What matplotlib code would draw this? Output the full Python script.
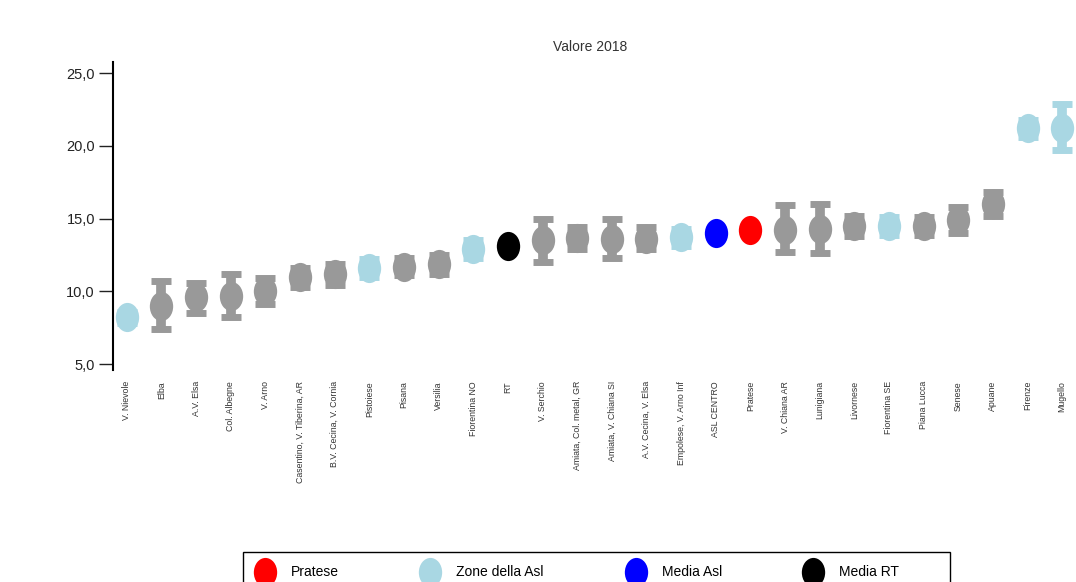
import numpy as np
import matplotlib
matplotlib.use('Agg')
import matplotlib.pyplot as plt
from matplotlib.path import Path
from matplotlib.lines import Line2D
from matplotlib.patches import Rectangle
from matplotlib.ticker import FuncFormatter

plt.rcParams['font.family'] = ['Liberation Sans', 'DejaVu Sans']

# Data
labels = ['V. Nievole', 'Elba', 'A.V. Elsa', 'Col. Albegne', 'V. Arno',
          'Casentino, V. Tiberina, AR', 'B.V. Cecina, V. Cornia', 'Pistoiese',
          'Pisana', 'Versilia', 'Fiorentina NO', 'RT', 'V. Serchio',
          'Amiata, Col. metal, GR', 'Amiata, V. Chiana SI', 'A.V. Cecina, V. Elsa',
          'Empolese, V. Arno Inf', 'ASL CENTRO', 'Pratese', 'V. Chiana AR',
          'Lunigiana', 'Livornese', 'Fiorentina SE', 'Piana Lucca', 'Senese',
          'Apuane', 'Firenze', 'Mugello']
values = [8.2, 9.0, 9.6, 9.7, 10.0, 10.95, 11.2, 11.6, 11.7, 11.85, 12.9, 13.1,
          13.5, 13.65, 13.6, 13.6, 13.7, 14.0, 14.2, 14.2, 14.3, 14.5, 14.5, 14.5,
          14.9, 16.0, 21.2, 21.2]
lower = [7.8, 7.4, 8.5, 8.2, 9.1, 10.3, 10.4, 11.0, 11.1, 11.2, 12.3, 12.9,
         12.0, 12.9, 12.3, 12.9, 13.1, 13.8, 13.6, 12.7, 12.6, 13.8, 13.9, 13.9,
         14.0, 15.2, 20.6, 19.7]
upper = [8.6, 10.7, 10.6, 11.2, 10.9, 11.6, 11.9, 12.2, 12.3, 12.5, 13.5, 13.3,
         15.0, 14.4, 15.0, 14.4, 14.3, 14.2, 14.8, 15.9, 16.0, 15.2, 15.1, 15.1,
         15.8, 16.8, 21.8, 22.9]
groups = ['zona', 'altro', 'altro', 'altro', 'altro', 'altro', 'altro', 'zona',
          'altro', 'altro', 'zona', 'rt', 'altro', 'altro', 'altro', 'altro',
          'zona', 'asl', 'pratese', 'altro', 'altro', 'altro', 'zona', 'altro',
          'altro', 'altro', 'zona', 'zona']

colors = {'altro': '#999999', 'zona': '#a9d7e3', 'asl': '#0000ff',
          'pratese': '#ff0000', 'rt': '#000000'}

# ellipse marker
circ = Path.unit_circle()
ellipse = Path(circ.vertices * np.array([0.8, 1.0]), circ.codes)

fig = plt.figure(figsize=(10.76, 5.82), dpi=100)
ax = fig.add_axes([113 / 1076, (582 - 370) / 582, 1 - 113 / 1076, (370 - 62) / 582])

x = np.arange(len(labels))
for i in x:
    c = colors[groups[i]]
    if groups[i] in ('altro', 'zona'):
        ax.errorbar(i, values[i], yerr=[[values[i] - lower[i]], [upper[i] - values[i]]],
                    fmt='none', ecolor=c, elinewidth=7, capsize=7, capthick=5, zorder=2)
    ax.plot(i, values[i], marker=ellipse, markersize=21, color=c,
            markeredgewidth=0, linestyle='none', zorder=3)

ax.set_xlim(-0.4, 27.4)
ax.set_ylim(4.59, 25.76)
ax.set_yticks([5, 10, 15, 20, 25])
ax.yaxis.set_major_formatter(FuncFormatter(lambda v, p: f'{v:.1f}'.replace('.', ',')))
ax.set_xticks(x)
ax.set_xticklabels(labels, rotation=90, fontsize=6.3, color='#333333')
ax.tick_params(axis='x', length=0, pad=8)
ax.tick_params(axis='y', length=10, width=1, direction='out', labelsize=10.5,
               colors='#222222', pad=3)
for s in ['top', 'right', 'bottom']:
    ax.spines[s].set_visible(False)
ax.spines['left'].set_linewidth(1.5)

fig.text(590 / 1076, 1 - 47 / 582, 'Valore 2018', ha='center', va='center',
         fontsize=10, color='#333333')

# Legend (frame drawn separately, it is wider than the entries)
leg_names = ['Pratese', 'Zone della Asl', 'Media Asl', 'Media RT']
leg_groups = ['pratese', 'zona', 'asl', 'rt']
handles = [Line2D([], [], marker=ellipse, markersize=21, color=colors[g],
                  markeredgewidth=0, linestyle='none') for g in leg_groups]
fig.legend(handles, leg_names, loc='upper left', ncol=4,
           bbox_to_anchor=(237 / 1076, 1 - 546 / 582), frameon=False,
           fontsize=10, columnspacing=6.0, handletextpad=1.27,
           borderpad=0.9, handlelength=1.2)
fig.add_artist(Rectangle((243 / 1076, -0.02), (950 - 243) / 1076,
                         0.02 + (582 - 552) / 582, transform=fig.transFigure,
                         fill=False, edgecolor='black', linewidth=1))

fig.savefig('out.png', dpi=100)
